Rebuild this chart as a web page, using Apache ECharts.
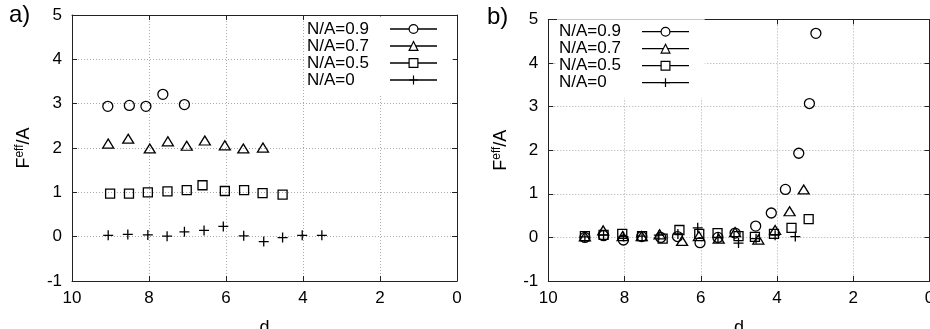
<!DOCTYPE html>
<html>
<head>
<meta charset="utf-8">
<script src="https://cdn.jsdelivr.net/npm/echarts@6/dist/echarts.min.js"></script>
<style>
  html, body { margin: 0; padding: 0; background: #fff; }
  #chart { width: 930px; height: 329px; }
</style>
</head>
<body>
<div id="chart"></div>
<script>
// Series names (legend order)
const seriesNames = ['N/A=0.9', 'N/A=0.7', 'N/A=0.5', 'N/A=0'];

// Axis ranges and tick steps
const dRange = [0, 10];
const dStep = 2;
const fRange = [-1, 5];
const fStep = 1;
const panelLabels = ['a)', 'b)'];

// Panel a: distance d and F_eff/A for each N/A
const dA09 = [9.07, 8.51, 8.08, 7.64, 7.08];
const fA09 = [2.94, 2.96, 2.94, 3.21, 2.98];
const dA07 = [9.06, 8.54, 7.98, 7.51, 7.02, 6.55, 6.03, 5.55, 5.04];
const fA07 = [2.10, 2.21, 1.99, 2.15, 2.05, 2.17, 2.06, 1.99, 2.01];
const dA05 = [9.01, 8.52, 8.03, 7.52, 7.02, 6.61, 6.03, 5.53, 5.05, 4.53];
const fA05 = [0.97, 0.97, 1.00, 1.02, 1.05, 1.16, 1.03, 1.05, 0.98, 0.95];
const dA0 = [9.06, 8.55, 8.03, 7.53, 7.08, 6.57, 6.07, 5.54, 5.02, 4.53, 4.02, 3.51];
const fA0 = [0.03, 0.05, 0.04, 0.01, 0.11, 0.14, 0.23, 0.02, -0.11, -0.02, 0.03, 0.03];

// Panel b
const dB09 = [9.04, 8.55, 8.03, 7.55, 7.05, 6.61, 6.02, 5.55, 5.10, 4.56, 4.15, 3.78, 3.43, 3.15, 2.98];
const fB09 = [0.00, 0.04, -0.06, 0.02, 0.00, 0.02, -0.12, 0.00, 0.10, 0.26, 0.56, 1.10, 1.93, 3.07, 4.68];
const dB07 = [9.04, 8.56, 8.05, 7.55, 7.08, 6.49, 6.05, 5.53, 5.10, 4.49, 4.05, 3.67, 3.30];
const fB07 = [0.02, 0.16, 0.03, 0.03, 0.07, -0.08, 0.03, -0.03, 0.12, -0.05, 0.17, 0.60, 1.10];
const dB05 = [9.04, 8.55, 8.06, 7.54, 7.00, 6.56, 6.04, 5.56, 5.01, 4.58, 4.08, 3.62, 3.17];
const fB05 = [0.03, 0.06, 0.08, 0.03, -0.03, 0.17, 0.08, 0.10, 0.03, 0.01, 0.08, 0.22, 0.42];
const dB0 = [9.04, 8.55, 8.03, 7.54, 7.10, 6.60, 6.08, 5.55, 5.01, 4.55, 4.05, 3.52];
const fB0 = [0.01, 0.05, 0.02, 0.03, 0.05, 0.08, 0.22, 0.00, -0.13, -0.03, 0.05, 0.02];

const FONT = 'Liberation Sans, Arial, Helvetica, sans-serif';

const markerStyle = {
  'N/A=0.9': { symbol: 'circle', size: 10 },
  'N/A=0.7': { symbol: 'triangle', size: [11, 9] },
  'N/A=0.5': { symbol: 'rect', size: 9 },
  'N/A=0': { symbol: 'path://M5,0L5,10M0,5L10,5', size: 10 }
};

function pts(ds, vs) { return ds.map((d, i) => [d, vs[i]]); }

function makeSeries(name, ds, vs, xi, yi) {
  return {
    type: 'line',
    name: name,
    xAxisIndex: xi,
    yAxisIndex: yi,
    data: pts(ds, vs),
    symbol: markerStyle[name].symbol,
    symbolSize: markerStyle[name].size,
    showSymbol: true,
    lineStyle: { opacity: 0, width: 0 },
    itemStyle: { color: 'rgba(0,0,0,0)', borderColor: '#000', borderWidth: 1.3 },
    emphasis: { disabled: true },
    silent: true,
    z: 3
  };
}

const grids = [
  { left: 72, right: 473, top: 15, bottom: 48, containLabel: false, outerBoundsMode: 'none' },
  { left: 548.3, right: 0.5, top: 19.4, bottom: 48, containLabel: false, outerBoundsMode: 'none' }
];

function mainX(gi) {
  return {
    type: 'value', gridIndex: gi, min: dRange[0], max: dRange[1], interval: dStep,
    inverse: true, position: 'bottom',
    name: 'd', nameLocation: 'middle', nameGap: 38,
    nameTextStyle: { fontSize: 18, fontFamily: FONT, color: '#000' },
    axisLine: { show: true, onZero: false, lineStyle: { color: '#222', width: 1 } },
    axisTick: { show: true, inside: true, length: 5, lineStyle: { color: '#222' } },
    axisLabel: { fontSize: 17, fontFamily: FONT, color: '#000', margin: 9 },
    splitLine: { show: true, lineStyle: { color: '#aaa', width: 1, type: [1, 2] } }
  };
}
function mirrorX(gi) {
  return {
    type: 'value', gridIndex: gi, min: dRange[0], max: dRange[1], interval: dStep,
    inverse: true, position: 'top',
    axisLine: { show: true, onZero: false, lineStyle: { color: '#222', width: 1 } },
    axisTick: { show: true, inside: true, length: 5, lineStyle: { color: '#222' } },
    axisLabel: { show: false }, splitLine: { show: false }
  };
}
function mainY(gi) {
  return {
    type: 'value', gridIndex: gi, min: fRange[0], max: fRange[1], interval: fStep,
    position: 'left',
    name: '{b|F}{s|eff}{b|/A}', nameLocation: 'middle', nameGap: 37, nameRotate: 90,
    nameTextStyle: {
      color: '#000',
      rich: {
        b: { fontSize: 18, fontFamily: FONT, color: '#000' },
        s: { fontSize: 12, fontFamily: FONT, color: '#000', padding: [0, 0, 9, 0] }
      }
    },
    axisLine: { show: true, onZero: false, lineStyle: { color: '#222', width: 1 } },
    axisTick: { show: true, inside: true, length: 5, lineStyle: { color: '#222' } },
    axisLabel: { fontSize: 17, fontFamily: FONT, color: '#000', margin: 10 },
    splitLine: { show: true, lineStyle: { color: '#aaa', width: 1, type: [1, 2] } }
  };
}
function mirrorY(gi) {
  return {
    type: 'value', gridIndex: gi, min: fRange[0], max: fRange[1], interval: fStep,
    position: 'right',
    axisLine: { show: true, onZero: false, lineStyle: { color: '#222', width: 1 } },
    axisTick: { show: true, inside: true, length: 5, lineStyle: { color: '#222' } },
    axisLabel: { show: false }, splitLine: { show: false }
  };
}

function makeLegend(left, top) {
  return {
    data: seriesNames,
    orient: 'vertical',
    left: left, top: top,
    align: 'right',
    itemWidth: 47, itemHeight: 11, itemGap: 0,
    padding: [4, 15, 7, 2],
    backgroundColor: '#fff',
    selectedMode: false,
    formatter: '{t|{name}}',
    textStyle: {
      fontSize: 17, fontFamily: FONT, color: '#000', lineHeight: 17,
      rich: { t: { width: 78, align: 'left', fontSize: 17, lineHeight: 17, fontFamily: FONT, color: '#000' } }
    },
    itemStyle: { color: '#fff', borderColor: '#000', borderWidth: 1.2, opacity: 1 },
    lineStyle: { color: '#000', width: 1.3, opacity: 1, type: 'solid' },
    z: 10
  };
}

const option = {
  animation: false,
  backgroundColor: '#fff',
  title: [
    { text: panelLabels[0], left: 9, top: 3, padding: 0, textStyle: { fontSize: 24, fontWeight: 'normal', fontFamily: FONT, color: '#000' } },
    { text: panelLabels[1], left: 487, top: 5, padding: 0, textStyle: { fontSize: 24, fontWeight: 'normal', fontFamily: FONT, color: '#000' } }
  ],
  grid: grids,
  xAxis: [mainX(0), mirrorX(0), mainX(1), mirrorX(1)],
  yAxis: [mainY(0), mirrorY(0), mainY(1), mirrorY(1)],
  legend: [makeLegend(305, 16.5), makeLegend(557, 19.2)],
  series: [
    makeSeries('N/A=0.9', dA09, fA09, 0, 0),
    makeSeries('N/A=0.7', dA07, fA07, 0, 0),
    makeSeries('N/A=0.5', dA05, fA05, 0, 0),
    makeSeries('N/A=0', dA0, fA0, 0, 0),
    makeSeries('N/A=0.9', dB09, fB09, 2, 2),
    makeSeries('N/A=0.7', dB07, fB07, 2, 2),
    makeSeries('N/A=0.5', dB05, fB05, 2, 2),
    makeSeries('N/A=0', dB0, fB0, 2, 2)
  ]
};

const chart = echarts.init(document.getElementById('chart'), null, { renderer: 'canvas' });
chart.setOption(option);
</script>
</body>
</html>
